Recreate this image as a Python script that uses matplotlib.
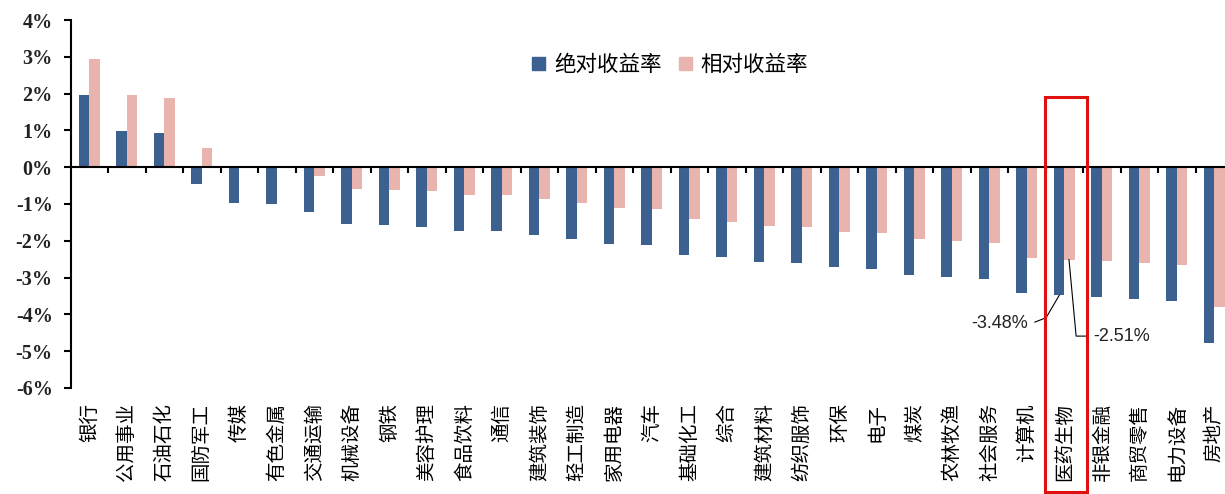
import matplotlib
matplotlib.use("Agg")
import matplotlib.pyplot as plt
from matplotlib.patches import Rectangle, Patch

plt.rcParams['font.family'] = ['Noto Sans CJK SC', 'DejaVu Sans']

# 申万一级行业周收益率
industries = ["银行", "公用事业", "石油石化", "国防军工", "传媒", "有色金属", "交通运输",
              "机械设备", "钢铁", "美容护理", "食品饮料", "通信", "建筑装饰", "轻工制造",
              "家用电器", "汽车", "基础化工", "综合", "建筑材料", "纺织服饰", "环保",
              "电子", "煤炭", "农林牧渔", "社会服务", "计算机", "医药生物", "非银金融",
              "商贸零售", "电力设备", "房地产"]
abs_ret = [1.96, 0.99, 0.92, -0.45, -0.96, -0.99, -1.21, -1.55, -1.58, -1.62, -1.73,
           -1.73, -1.85, -1.94, -2.09, -2.12, -2.39, -2.45, -2.57, -2.59, -2.72, -2.77,
           -2.93, -2.98, -3.05, -3.43, -3.48, -3.52, -3.57, -3.64, -4.77]
rel_ret = [2.93, 1.96, 1.89, 0.51, -0.01, -0.01, -0.24, -0.58, -0.61, -0.64, -0.75,
           -0.75, -0.86, -0.96, -1.12, -1.14, -1.41, -1.48, -1.60, -1.62, -1.75, -1.80,
           -1.95, -2.00, -2.07, -2.48, -2.51, -2.55, -2.59, -2.66, -3.79]
highlight = "医药生物"

BLUE = "#3c6090"
PINK = "#e8b4ad"

fig = plt.figure(figsize=(12.25, 4.94), dpi=100)
ax = fig.add_axes([0.0577, 0.2146, 0.9423, 0.7449])

x = list(range(len(industries)))
w = 0.28
ax.bar([i - w / 2 for i in x], abs_ret, width=w, color=BLUE, zorder=2)
ax.bar([i + w / 2 for i in x], rel_ret, width=w, color=PINK, zorder=2)

ax.set_xlim(-0.5, 30.28)
ax.set_ylim(-6, 4)

for s in ["top", "right"]:
    ax.spines[s].set_visible(False)
ax.spines["bottom"].set_position(("data", 0))
ax.spines["bottom"].set_linewidth(1.5)
ax.spines["left"].set_linewidth(1.5)

ax.set_xticks([i + 0.5 for i in x[:-1]])
ax.set_xticklabels([])
ax.tick_params(axis="x", direction="out", length=4.5, width=1.5)

ax.set_yticks(range(-6, 5))
ax.set_yticklabels([f"{v}%" for v in range(-6, 5)],
                   family="Liberation Serif", fontsize=14.5, fontweight="bold",
                   color="#222222")
ax.tick_params(axis="y", direction="out", length=5, width=1.5, pad=8)

for i, name in enumerate(industries):
    ax.annotate(name, xy=(i, 0), xycoords=("data", "axes fraction"),
                xytext=(0, -11), textcoords="offset points",
                rotation=90, ha="center", va="top", fontsize=14)

# 重点行业标注
k = industries.index(highlight)
ax.plot([k - 0.79, k - 0.49, k - w / 2], [-4.21, -4.09, abs_ret[k]],
        color="black", lw=0.8, zorder=3)
ax.text(k - 0.98, -4.25, f"{abs_ret[k]:.2f}%", ha="right", va="center",
        fontsize=13, family="Liberation Sans", color="#222222")
ax.plot([k + w / 2 - 0.02, k + 0.31, k + 0.57], [rel_ret[k], -4.59, -4.59],
        color="black", lw=0.8, zorder=3)
ax.text(k + 0.76, -4.6, f"{rel_ret[k]:.2f}%", ha="left", va="center",
        fontsize=13, family="Liberation Sans", color="#222222")

box = Rectangle((k - 0.52, -8.84), 1.12, 1.92 + 8.84, fill=False,
                edgecolor="#e01010", lw=2.2, clip_on=False, zorder=4)
ax.add_patch(box)

handles = [Patch(color=BLUE, label="绝对收益率"), Patch(color=PINK, label="相对收益率")]
fig.legend(handles=handles, loc="center", bbox_to_anchor=(0.547, 0.868),
           ncol=2, frameon=False, fontsize=15.5, handlelength=0.6, handleheight=0.6,
           handletextpad=0.4, columnspacing=0.8)

fig.savefig("out.png", dpi=100)
